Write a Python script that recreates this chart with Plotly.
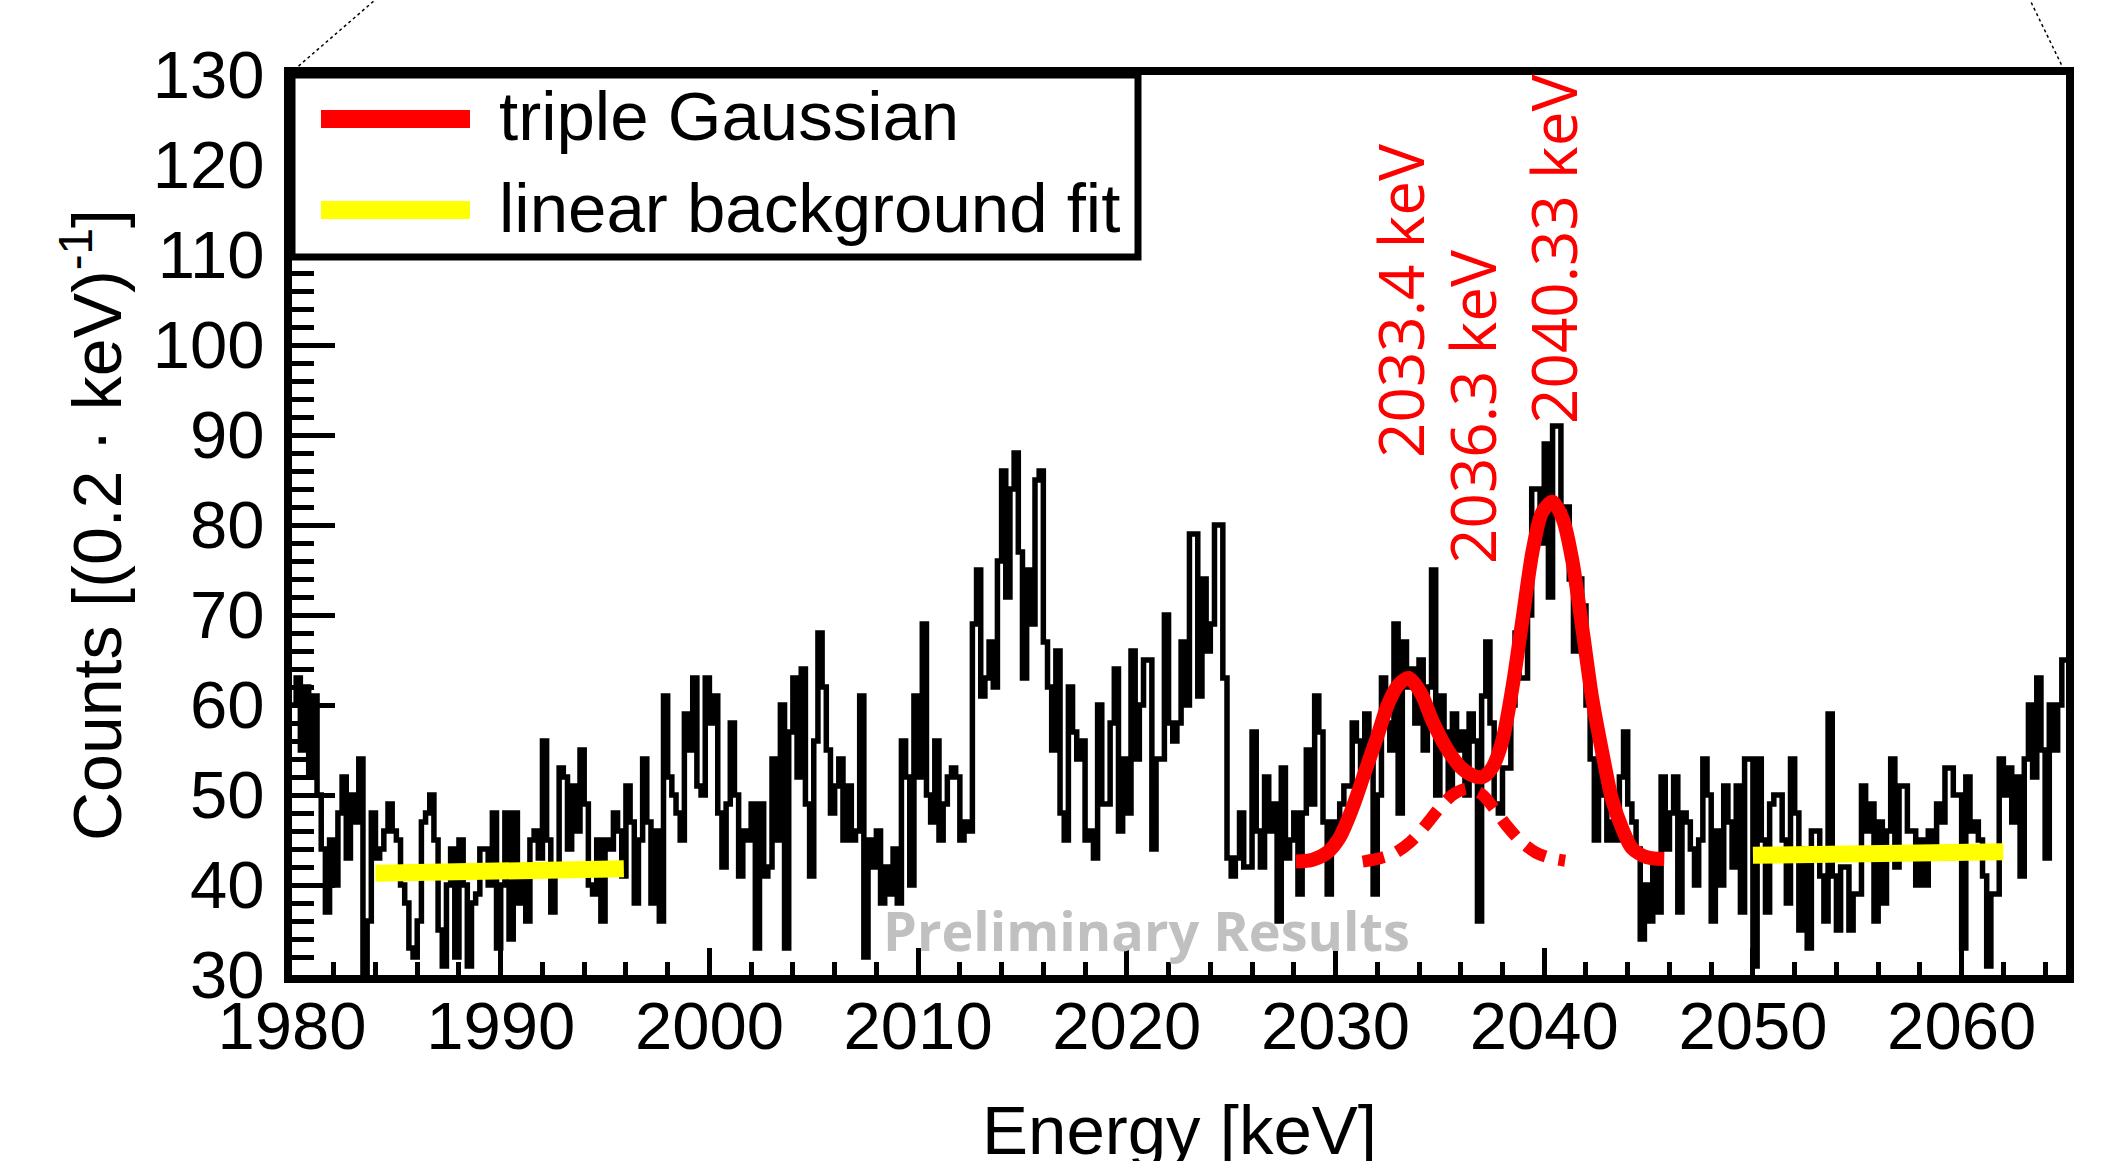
import plotly.graph_objects as go

# ---------------- data ----------------
e_start = 1980.0
bin_width = 0.2
counts = [
    60, 63, 55, 62, 52, 61, 50, 44, 37, 45,
    40, 48, 52, 43, 50, 47, 54, 30, 36, 48,
    43, 44, 46, 49, 46, 45, 40, 38, 33, 32,
    36, 47, 48, 50, 45, 35, 31, 40, 44, 32,
    45, 40, 31, 38, 39, 44, 44, 40, 48, 33,
    40, 48, 34, 48, 38, 41, 36, 45, 46, 43,
    56, 45, 37, 42, 53, 52, 44, 51, 46, 55, 49,
    40, 39, 45, 36, 45, 44, 48, 46, 41, 51,
    47, 38, 45, 54, 47, 38, 46, 36, 61, 52,
    50, 48, 45, 59, 55, 63, 51, 50, 63, 58,
    61, 48, 42, 49, 58, 50, 41, 46, 45, 49,
    33, 49, 41, 42, 54, 45, 60, 33, 57, 63,
    52, 64, 49, 41, 56, 68, 62, 55, 48, 51, 54,
    45, 51, 45, 46, 61, 32, 45, 42, 46, 38,
    42, 39, 44, 38, 56, 52, 40, 61, 52, 69,
    50, 47, 56, 45, 49, 52, 53, 52, 45, 47,
    46, 69, 75, 61, 63, 67, 62, 76, 86, 72,
    84, 88, 77, 63, 75, 69, 85, 86, 67, 62,
    55, 66, 48, 45, 62, 57, 54, 56, 45, 46,
    43, 60, 49, 49, 58, 64, 46, 54, 48, 66, 54,
    60, 65, 65, 44, 54, 54, 70, 58, 56, 58,
    67, 60, 79, 79, 61, 74, 66, 69, 80, 80,
    63, 43, 41, 43, 48, 42, 42, 57, 46, 42,
    52, 46, 49, 36, 53, 43, 45, 48, 39, 48,
    55, 49, 61, 57, 47, 39, 47, 45, 49, 51,
    51, 58, 56, 52, 59, 56, 39, 50, 63, 58, 55,
    69, 48, 67, 62, 64, 58, 65, 55, 62, 75,
    50, 61, 57, 50, 59, 55, 57, 50, 59, 56,
    36, 61, 67, 58, 49, 48, 53, 53, 60, 68,
    63, 63, 70, 84, 84, 78, 89, 72, 91, 91,
    82, 82, 74, 66, 74, 71, 60, 54, 45, 55,
    50, 45, 47, 45, 52, 57, 49, 47, 44, 34,
    40, 36, 42, 37, 52, 44, 48, 52, 37, 48, 47,
    44, 40, 45, 54, 50, 36, 46, 40, 51, 47,
    42, 51, 37, 54, 54, 31, 54, 45, 37, 49,
    50, 50, 45, 38, 54, 48, 35, 44, 33, 46,
    46, 41, 36, 59, 41, 35, 42, 42, 35, 39,
    39, 51, 46, 49, 36, 47, 38, 46, 54, 42,
    51, 51, 46, 46, 40, 45, 40, 46, 44, 49,
    47, 53, 53, 50, 50, 33, 52, 46, 47, 45,
    41, 31, 39, 39, 54, 50, 53, 47, 52, 41,
    54, 60, 52, 63, 55, 43, 60, 55, 60, 65,
]

fit_energy = [2028.1, 2028.9, 2029.6, 2030.2, 2030.8, 2031.4, 2032.0, 2032.5,
              2033.0, 2033.5, 2034.1, 2034.65, 2035.3, 2035.95, 2036.55, 2037.05,
              2037.5, 2038.0, 2038.5, 2039.0, 2039.45, 2039.9, 2040.4, 2040.9,
              2041.35, 2041.85, 2042.3, 2042.8, 2043.25, 2043.75, 2044.2, 2044.9,
              2045.75]
fit_counts = [42.6, 42.8, 43.6, 45.3, 48.5, 52.5, 56.5, 60.0,
              62.2, 63.0, 61.3, 58.2, 55.3, 53.2, 52.2, 52.0,
              53.0, 56.1, 62.3, 70.2, 77.2, 81.4, 82.6, 80.6,
              76.0, 68.1, 60.7, 54.5, 49.5, 46.2, 44.1, 43.1,
              42.9]

comp_energy = [2031.3, 2032.0, 2032.8, 2033.6, 2034.3, 2035.0, 2035.6, 2036.3,
               2037.0, 2037.6, 2038.2, 2038.9, 2039.6, 2040.3, 2041.0]
comp_counts = [42.6, 42.9, 43.5, 44.8, 46.6, 48.6, 50.0, 50.7,
               50.1, 48.5, 46.6, 44.8, 43.6, 43.0, 42.7]

bg_left_energy = [1984.0, 1995.9]
bg_left_counts = [41.3, 41.8]
bg_right_energy = [2050.0, 2062.0]
bg_right_counts = [43.3, 43.7]

peak_labels = ["2033.4 keV", "2036.3 keV", "2040.33 keV"]
legend_labels = ["triple Gaussian", "linear background fit"]
x_tick_vals = [1980, 1990, 2000, 2010, 2020, 2030, 2040, 2050, 2060]
y_tick_vals = [30, 40, 50, 60, 70, 80, 90, 100, 110, 120, 130]

# ---------------- geometry helpers (pixels -> paper) ----------------
W, H = 2123, 1161
PL, PR, PT, PB = 292, 2066, 75, 975   # plot area in pixels
pw, ph = PR - PL, PB - PT


def px(x):
    return (x - PL) / pw


def py(y):
    return (PB - y) / ph


bin_edges = [round(e_start + bin_width * i, 1) for i in range(len(counts) + 1)]
step_counts = counts + [counts[-1]]

fig = go.Figure()
fig.add_trace(go.Scatter(x=bin_edges, y=step_counts, mode="lines",
                         line=dict(color="black", width=5.5, shape="hv"),
                         showlegend=False, hoverinfo="skip"))
fig.add_trace(go.Scatter(x=bg_left_energy, y=bg_left_counts, mode="lines",
                         line=dict(color="#ffff00", width=17), showlegend=False))
fig.add_trace(go.Scatter(x=bg_right_energy, y=bg_right_counts, mode="lines",
                         line=dict(color="#ffff00", width=17), showlegend=False))
fig.add_trace(go.Scatter(x=comp_energy, y=comp_counts, mode="lines",
                         line=dict(color="#ff0000", width=12, dash="22px,14px",
                                   shape="spline", smoothing=0.8),
                         showlegend=False))
fig.add_trace(go.Scatter(x=fit_energy, y=fit_counts, mode="lines",
                         line=dict(color="#ff0000", width=14, shape="spline",
                                   smoothing=0.8),
                         showlegend=False))

axis_font = dict(family="Liberation Sans, Arial, sans-serif", size=67, color="black")

fig.update_xaxes(range=[1980, 2065], tickmode="array", tickvals=x_tick_vals,
                 ticks="inside", ticklen=27, tickwidth=5, tickcolor="black",
                 minor=dict(dtick=2, tick0=1980, ticks="inside", ticklen=13,
                            tickwidth=5, tickcolor="black"),
                 showline=True, linewidth=8, linecolor="black", mirror=True,
                 showgrid=False, zeroline=False, tickfont=axis_font,
                 ticklabelstandoff=-14)
fig.update_yaxes(range=[30, 130], tickmode="array", tickvals=y_tick_vals,
                 ticks="inside", ticklen=43, tickwidth=5, tickcolor="black",
                 minor=dict(dtick=2, tick0=30, ticks="inside", ticklen=22,
                            tickwidth=5, tickcolor="black"),
                 showline=True, linewidth=8, linecolor="black", mirror=True,
                 showgrid=False, zeroline=False, tickfont=axis_font,
                 ticklabelstandoff=6)

shapes = []
# legend box
shapes.append(dict(type="rect", xref="paper", yref="paper",
                   x0=px(PL), x1=px(1138), y0=py(257), y1=py(PT),
                   line=dict(color="black", width=7), fillcolor="white", layer="above"))
shapes.append(dict(type="line", xref="paper", yref="paper",
                   x0=px(321), x1=px(470), y0=py(119), y1=py(119),
                   line=dict(color="#ff0000", width=18)))
shapes.append(dict(type="line", xref="paper", yref="paper",
                   x0=px(321), x1=px(470), y0=py(210), y1=py(210),
                   line=dict(color="#ffff00", width=18)))
# zoom guide lines from the slide
shapes.append(dict(type="line", xref="paper", yref="paper",
                   x0=px(294), x1=px(375), y0=py(70), y1=py(0),
                   line=dict(color="black", width=1.5, dash="dot")))
shapes.append(dict(type="line", xref="paper", yref="paper",
                   x0=px(2064), x1=px(2030), y0=py(70), y1=py(0),
                   line=dict(color="black", width=1.5, dash="dot")))

annotations = []
leg_font = dict(family="Liberation Sans, Arial, sans-serif", size=69, color="black")
annotations.append(dict(xref="paper", yref="paper", x=px(497), y=py(116),
                        text=legend_labels[0], showarrow=False, xanchor="left",
                        yanchor="middle", font=leg_font))
annotations.append(dict(xref="paper", yref="paper", x=px(497), y=py(208),
                        text=legend_labels[1], showarrow=False, xanchor="left",
                        yanchor="middle", font=leg_font))

red_font = dict(family="Open Sans, sans-serif", size=62, color="#ff0000")
label_pos = [(1400, 301), (1472, 407), (1553, 250)]
for txt, (lx, ly) in zip(peak_labels, label_pos):
    annotations.append(dict(xref="paper", yref="paper", x=px(lx), y=py(ly),
                            text=txt, showarrow=False, textangle=-90,
                            xanchor="center", yanchor="middle", font=red_font))

annotations.append(dict(xref="paper", yref="paper", x=px(1146), y=py(930),
                        text="<b>Preliminary Results</b>", showarrow=False,
                        xanchor="center", yanchor="middle",
                        font=dict(family="Open Sans, sans-serif", size=54,
                                  color="#c0c0c0")))

annotations.append(dict(xref="paper", yref="paper", x=px(92), y=0.5,
                        text="Counts [(0.2 · keV)<sup>-1</sup>]", showarrow=False,
                        textangle=-90, xanchor="center", yanchor="middle",
                        font=dict(family="Liberation Sans, Arial, sans-serif",
                                  size=68, color="black")))
annotations.append(dict(xref="paper", yref="paper", x=0.5, y=py(1130),
                        text="Energy [keV]", showarrow=False,
                        xanchor="center", yanchor="middle",
                        font=dict(family="Liberation Sans, Arial, sans-serif",
                                  size=69, color="black")))

fig.update_layout(width=W, height=H,
                  margin=dict(l=PL, r=W - PR, t=PT, b=H - PB, pad=0),
                  paper_bgcolor="white", plot_bgcolor="white",
                  shapes=shapes, annotations=annotations, showlegend=False)

fig.write_html("out.html", config={"displayModeBar": False})
